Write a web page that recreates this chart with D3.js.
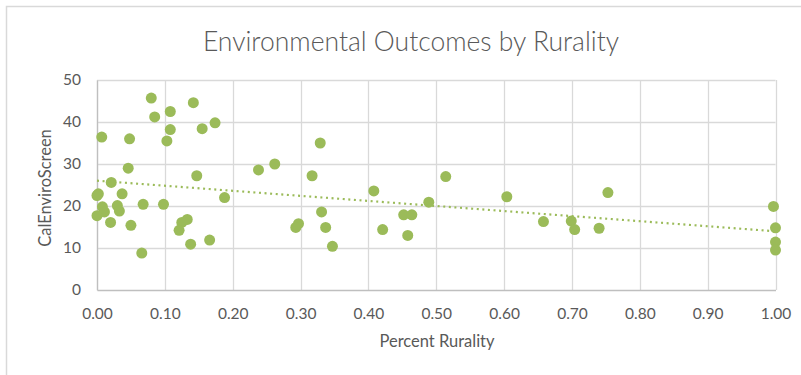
<!DOCTYPE html>
<html><head><meta charset="utf-8">
<script src="https://cdn.jsdelivr.net/npm/d3@7"></script>
<style>body{margin:0;background:#fff;}text{font-family:Lato,"Open Sans",sans-serif;fill:#595959;}</style>
</head><body>
<svg id="c" width="801" height="375"></svg>
<script>
const rurality = [0.080,0.085,0.108,0.142,0.108,0.155,0.174,0.007,0.048,0.103,0.046,0.147,0.238,0.021,0.002,0.000,0.037,0.188,0.008,0.030,0.068,0.098,0.011,0.033,0.000,0.020,0.050,0.125,0.133,0.121,0.138,0.166,0.066,
  0.329,0.262,0.317,0.408,0.514,0.489,0.331,0.297,0.293,0.337,0.347,0.421,0.452,0.464,0.458,
  0.604,0.753,0.658,0.699,0.704,0.740,0.997,1.000,1.000,1.000];
const enviroScore = [45.7,41.2,42.5,44.6,38.2,38.4,39.8,36.4,36.0,35.5,29.0,27.2,28.6,25.6,22.9,22.5,22.9,22.0,19.8,20.1,20.4,20.4,18.6,18.8,17.7,16.1,15.4,16.1,16.8,14.2,10.9,11.9,8.8,
  35.0,30.0,27.2,23.6,27.0,20.9,18.6,15.8,14.9,14.9,10.4,14.4,17.9,17.9,13.0,
  22.2,23.2,16.3,16.4,14.4,14.7,19.9,14.8,11.4,9.5];
const xTicks = [0,0.1,0.2,0.3,0.4,0.5,0.6,0.7,0.8,0.9,1.0];
const yTicks = [0,10,20,30,40,50];
const title = "Environmental Outcomes by Rurality";
const xTitle = "Percent Rurality";
const yTitle = "CalEnviroScreen";

const svg = d3.select("#c");
const green = "#9bbb59";
const x = d3.scaleLinear().domain([0,1]).range([97,775.5]);
const y = d3.scaleLinear().domain([0,50]).range([290,80]);

// frame
svg.append("rect").attr("x",6.5).attr("y",6.5).attr("width",820).attr("height",400)
  .attr("fill","none").attr("stroke","#d9d9d9").attr("stroke-width",1.5);

// title
svg.append("text").attr("x",411).attr("y",51).attr("text-anchor","middle")
  .style("font-size","26.5px").style("font-weight",300).text(title);

// gridlines
const grid = svg.append("g");
grid.selectAll(".h").data(yTicks.filter(d=>d>0)).join("line")
  .attr("x1",x(0)).attr("x2",x(1)).attr("y1",d=>Math.round(y(d))+0.5).attr("y2",d=>Math.round(y(d))+0.5)
  .attr("stroke","#d9d9d9").attr("stroke-width",1.3);
grid.selectAll(".v").data(xTicks).join("line")
  .attr("y1",y(0)).attr("y2",y(50)).attr("x1",d=>Math.round(x(d))+0.5).attr("x2",d=>Math.round(x(d))+0.5)
  .attr("stroke","#d9d9d9").attr("stroke-width",1.3);

// axes
const xAxis = svg.append("g").attr("transform",`translate(0,${y(0)})`)
  .call(d3.axisBottom(x).tickValues(xTicks).tickFormat(d3.format(".2f")).tickSize(0).tickPadding(18));
xAxis.select(".domain").attr("stroke","#bfbfbf").attr("stroke-width",1.3);
xAxis.selectAll("text").style("font-size","15.5px").style("fill","#595959");
const yAxis = svg.append("g").attr("transform",`translate(${x(0)},0)`)
  .call(d3.axisLeft(y).tickValues(yTicks).tickSize(0).tickPadding(16));
yAxis.select(".domain").attr("stroke","#bfbfbf").attr("stroke-width",1.3);
yAxis.selectAll("text").style("font-size","15.5px").style("fill","#595959");

// axis titles
svg.append("text").attr("x",437).attr("y",347).attr("text-anchor","middle").style("font-size","16.5px").text(xTitle);
svg.append("text").attr("transform","translate(51,188) rotate(-90)").attr("text-anchor","middle").style("font-size","16.5px").text(yTitle);

// points
const data = rurality.map((r,i)=>({r, s:enviroScore[i]}));
svg.append("g").selectAll("circle").data(data).join("circle")
  .attr("cx",d=>x(d.r)).attr("cy",d=>y(d.s)).attr("r",5.5).attr("fill",green);

// linear trendline
const mx = d3.mean(data,d=>d.r), my = d3.mean(data,d=>d.s);
const slope = d3.sum(data,d=>(d.r-mx)*(d.s-my))/d3.sum(data,d=>(d.r-mx)**2);
const icpt = my - slope*mx;
svg.append("line").attr("x1",x(0)).attr("x2",x(1)).attr("y1",y(icpt)).attr("y2",y(icpt+slope))
  .attr("stroke",green).attr("stroke-width",2.2).attr("stroke-dasharray","2 3.6");
</script>
</body></html>
